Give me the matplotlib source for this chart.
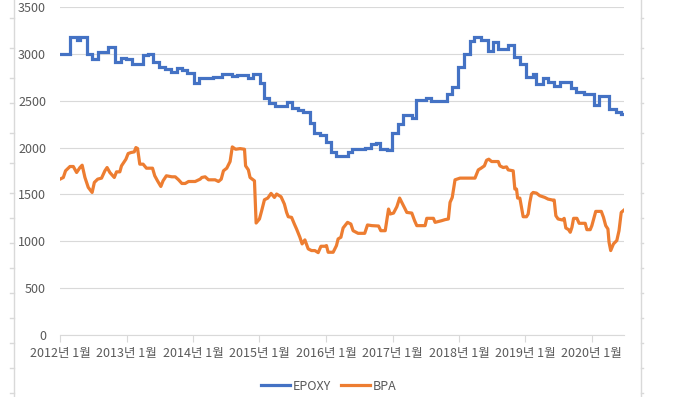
import datetime
import numpy as np
import matplotlib
matplotlib.use('Agg')
import matplotlib.pyplot as plt
import matplotlib.dates as mdates
from matplotlib.lines import Line2D

plt.rcParams['font.family'] = ['Noto Sans CJK KR', 'DejaVu Sans']

# months since 2012-01
epoxy_month = [0, 1.8, 3.0, 3.6, 4.9, 5.8, 6.8, 8.7, 10.0, 11.0, 12.0, 13.0, 14.9, 15.9, 16.7,
               17.9, 19.0, 20.0, 21.1, 22.0, 22.9, 24.2, 25.1, 27.7, 29.2, 31.0, 31.9, 34.0,
               34.9, 36.1, 36.9, 37.7, 38.8, 40.9, 41.9, 43.0, 43.9, 45.1, 45.9, 46.9, 48.0,
               48.9, 49.8, 51.9, 52.7, 55.1, 56.1, 57.0, 57.8, 59.0, 60.0, 61.0, 62.0, 63.6,
               64.2, 66.0, 67.0, 69.8, 70.8, 71.9, 73.0, 74.0, 74.8, 76.0, 77.2, 78.2, 79.1,
               80.9, 82.0, 83.0, 84.1, 85.4, 86.0, 87.1, 88.1, 89.2, 90.3, 92.2, 93.1, 94.5,
               96.3, 97.3, 99.1, 100.3, 101.3, 101.8]
epoxy_value = [3000, 3181, 3152, 3181, 3000, 2950, 3021, 3078, 2915, 2957, 2947, 2894, 2986, 3000, 2915,
               2865, 2840, 2808, 2851, 2833, 2798, 2691, 2738, 2755, 2780, 2762, 2777, 2738,
               2780, 2691, 2532, 2472, 2440, 2489, 2426, 2401, 2383, 2259, 2160, 2135, 2064,
               1957, 1915, 1954, 1989, 2000, 2035, 2046, 1989, 1972, 2160, 2248, 2344, 2319,
               2511, 2532, 2500, 2567, 2649, 2862, 3000, 3142, 3181, 3152, 3028, 3128, 3053,
               3092, 2968, 2894, 2752, 2780, 2681, 2738, 2702, 2652, 2702, 2631, 2596, 2574,
               2450, 2546, 2408, 2383, 2362, 2362]

bpa_month = [0.0, 0.6, 1.0, 1.8, 2.4, 3.0, 3.6, 4.0, 4.5, 5.1, 5.8, 6.2, 6.8, 7.5, 8.1, 8.5, 9.0,
             9.8, 10.2, 10.8, 11.1, 11.9, 12.3, 12.8, 13.4, 13.7, 14.0, 14.4, 15.0, 15.6, 16.7,
             17.1, 17.6, 18.2, 18.6, 19.2, 20.2, 20.8, 21.4, 22.0, 22.6, 23.2, 24.4, 25.3, 25.6,
             26.2, 26.8, 28.0, 28.6, 29.1, 29.5, 30.1, 30.7, 31.1, 31.7, 32.5, 33.3, 33.5, 34.0,
             34.3, 35.1, 35.4, 36.0, 36.4, 36.9, 37.5, 38.1, 38.7, 39.1, 39.9, 40.5, 40.9, 41.2,
             41.8, 42.3, 42.7, 43.3, 43.7, 44.2, 44.8, 45.4, 46.0, 46.6, 47.1, 47.8, 48.1, 48.4,
             49.3, 49.9, 50.2, 50.7, 51.1, 51.9, 52.5, 52.9, 53.8, 55.0, 55.5, 56.3, 57.5, 57.9,
             58.7, 59.3, 59.6, 60.2, 60.8, 61.3, 61.7, 62.3, 62.6, 63.5, 64.0, 64.4, 65.9, 66.2,
             67.4, 67.7, 68.9, 69.5, 70.1, 70.4, 70.8, 71.3, 72.2, 74.9, 75.5, 76.0, 76.6, 77.0,
             77.4, 77.9, 79.1, 79.4, 80.0, 80.6, 80.9, 81.8, 82.1, 82.4, 82.6, 83.0, 83.3, 83.6,
             84.2, 84.5, 84.8, 85.1, 85.4, 86.0, 86.6, 87.5, 88.1, 88.9, 89.2, 89.5, 89.9, 90.7,
             91.0, 91.3, 91.8, 92.1, 92.4, 92.7, 93.3, 93.7, 94.8, 95.1, 95.7, 96.0, 96.4, 96.7,
             97.7, 98.1, 98.5, 98.9, 99.1, 99.4, 99.9, 100.5, 100.9, 101.3, 101.8]
bpa_value = [1663, 1681, 1752, 1798, 1798, 1734, 1787, 1812, 1681, 1575, 1521, 1628, 1663, 1674, 1752, 1787, 1734,
             1681, 1741, 1741, 1805, 1876, 1936, 1947, 1954, 2000, 1990, 1823, 1823, 1780, 1780,
             1699, 1645, 1585, 1645, 1699, 1688, 1688, 1656, 1617, 1617, 1638, 1638, 1663, 1681,
             1688, 1656, 1656, 1638, 1663, 1752, 1780, 1851, 2007, 1982, 1989, 1982, 1805, 1762,
             1681, 1645, 1195, 1238, 1326, 1443, 1461, 1511, 1468, 1504, 1475, 1397, 1308, 1262,
             1255, 1184, 1131, 1043, 972, 1015, 919, 901, 901, 879, 947, 947, 954, 883,
             883, 954, 1025, 1043, 1142, 1202, 1184, 1113, 1085, 1085, 1174, 1167, 1163, 1113,
             1113, 1344, 1291, 1301, 1369, 1461, 1415, 1344, 1308, 1301, 1220, 1167, 1167, 1245,
             1245, 1202, 1220, 1231, 1238, 1415, 1468, 1656, 1674, 1674, 1762, 1780, 1805, 1865,
             1876, 1851, 1851, 1805, 1787, 1794, 1762, 1752, 1557, 1557, 1461, 1461, 1362, 1262,
             1262, 1291, 1415, 1504, 1521, 1514, 1486, 1468, 1450, 1440, 1440, 1273, 1238, 1227,
             1245, 1142, 1124, 1096, 1149, 1245, 1245, 1192, 1192, 1124, 1124, 1167, 1255, 1319,
             1319, 1255, 1167, 1131, 990, 901, 972, 1008, 1113, 1308, 1333]

years = list(range(2012, 2021))

start = mdates.date2num(datetime.datetime(2012, 1, 1))
month_days = 30.4375
epoxy_x = start + np.array(epoxy_month) * month_days
bpa_x = start + np.array(bpa_month) * month_days

grey = '#595959'
light = '#d9d9d9'

fig = plt.figure(figsize=(6.98, 3.97), dpi=100)
ax = fig.add_axes([60 / 698, 1 - 335 / 397, 564 / 698, 328 / 397])

ax.plot(epoxy_x, epoxy_value, color='#4472C4', lw=2.3, drawstyle='steps-post',
        label='EPOXY', solid_joinstyle='miter')
ax.plot(bpa_x, bpa_value, color='#ED7D31', lw=2.3, label='BPA', solid_joinstyle='round')

ax.set_ylim(0, 3500)
ax.set_yticks(range(0, 3501, 500))
ax.set_xlim(start, bpa_x[-1])
ax.set_xticks([mdates.date2num(datetime.datetime(y, 1, 1)) for y in years])
ax.set_xticklabels([f'{y}년 1월' for y in years])

ax.grid(axis='y', color=light, lw=0.8)
ax.set_axisbelow(True)
for s in ['top', 'right', 'left']:
    ax.spines[s].set_visible(False)
ax.spines['bottom'].set_color(light)
ax.spines['bottom'].set_linewidth(0.8)
ax.tick_params(axis='y', length=0, pad=10, labelsize=9, labelcolor=grey)
ax.tick_params(axis='x', length=5, width=0.8, color=light, pad=4, labelsize=9, labelcolor=grey)

fig.legend(loc='center', bbox_to_anchor=(0.471, 1 - 386 / 397), ncol=2, frameon=False,
           fontsize=9, labelcolor=grey, handlelength=2.3, handletextpad=0.25, columnspacing=0.8)

# sheet border lines around the chart
for xp in [14, 641]:
    fig.add_artist(Line2D([xp / 698, xp / 698], [0, 1], transform=fig.transFigure,
                          color=light, lw=1))
for yp in [18, 48, 78, 103, 133, 163, 193, 218, 243, 268, 293, 318, 343, 368, 393]:
    fig.add_artist(Line2D([10 / 698, 14 / 698], [1 - yp / 397] * 2, transform=fig.transFigure,
                          color=light, lw=1))
    fig.add_artist(Line2D([641 / 698, 643 / 698], [1 - yp / 397] * 2, transform=fig.transFigure,
                          color=light, lw=1))

fig.savefig('out.png', dpi=100)
